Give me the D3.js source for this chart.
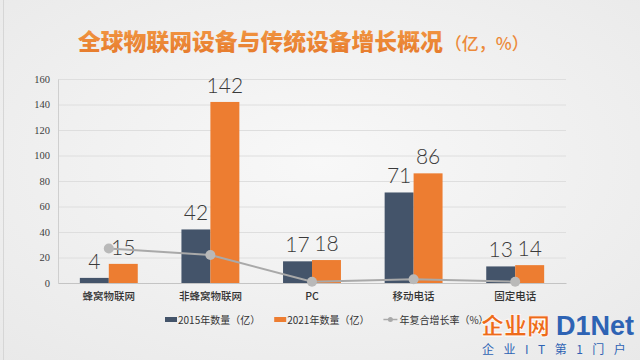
<!DOCTYPE html>
<html>
<head>
<meta charset="utf-8">
<script src="https://cdn.jsdelivr.net/npm/d3@7"></script>
<style>
  html, body { margin: 0; padding: 0; background: #efefef; }
  svg { display: block; }
</style>
</head>
<body>
<svg id="chart" width="640" height="360"></svg>
<script>
const categories = ['蜂窝物联网', '非蜂窝物联网', 'PC', '移动电话', '固定电话']
const count2015 = [4, 42, 17, 71, 13]
const count2021 = [15, 142, 18, 86, 14]
const growthRate = [27, 22, 1, 3, 1]
const yTicks = [0, 20, 40, 60, 80, 100, 120, 140, 160]
const seriesNames = ['2015年数量（亿）', '2021年数量（亿）', '年复合增长率（%）']

const blue = '#44546a'
const orange = '#ed7d31'
const grey = '#a9a9a9'

const svg = d3.select('#chart')

// background with a soft light centre
const defs = svg.append('defs')
const bg = defs.append('radialGradient').attr('id', 'bg')
  .attr('cx', '50%').attr('cy', '45%').attr('r', '75%')
bg.append('stop').attr('offset', '0%').attr('stop-color', '#f8f8f8')
bg.append('stop').attr('offset', '100%').attr('stop-color', '#e9e9e9')
svg.append('rect').attr('width', 640).attr('height', 360).attr('fill', 'url(#bg)')
svg.append('line').attr('x1', 3.5).attr('x2', 3.5).attr('y1', 0).attr('y2', 360)
  .attr('stroke', '#d6d6d6')

const titleGrad = defs.append('linearGradient').attr('id', 'tg')
  .attr('x1', 0).attr('x2', 0).attr('y1', 0).attr('y2', 1)
titleGrad.append('stop').attr('offset', '0%').attr('stop-color', '#f39a45')
titleGrad.append('stop').attr('offset', '100%').attr('stop-color', '#e5782a')

// title
const title = svg.append('text')
  .attr('x', 78).attr('y', 50)
  .attr('font-family', 'Noto Sans CJK SC')
  .attr('font-weight', 900)
  .attr('fill', 'url(#tg)')
title.append('tspan').attr('font-size', 22.8).text('全球物联网设备与传统设备增长概况')
title.append('tspan').attr('font-size', 17).attr('font-weight', 500).attr('fill', '#ec8a3a')
  .attr('dx', 2).text('（亿，%）')

// scales
const x = d3.scaleBand()
  .domain(categories)
  .range([58, 566])
  .paddingInner(0.43)
  .paddingOuter(0.215)

const x1 = d3.scaleBand()
  .domain(['2015', '2021'])
  .range([0, x.bandwidth()])

const y = d3.scaleLinear()
  .domain([0, 160])
  .range([283, 79])

// gridlines
svg.append('g')
  .selectAll('line')
  .data(yTicks.slice(1))
  .join('line')
  .attr('x1', 58).attr('x2', 566)
  .attr('y1', d => y(d) + 0.5).attr('y2', d => y(d) + 0.5)
  .attr('stroke', '#dedede')

// y axis
const yAxis = svg.append('g')
  .attr('transform', 'translate(58,0)')
  .call(d3.axisLeft(y).tickValues(yTicks).tickSize(0).tickPadding(8))
yAxis.select('.domain').attr('stroke', '#cfcfcf')
yAxis.selectAll('text')
  .attr('font-family', 'Liberation Serif')
  .attr('font-size', 10.5)
  .attr('fill', '#404040')

// bars
const rows = categories.map((c, i) => ({ cat: c, v2015: count2015[i], v2021: count2021[i] }))
const group = svg.append('g')
  .selectAll('g')
  .data(rows)
  .join('g')
  .attr('transform', d => `translate(${x(d.cat)},0)`)

group.selectAll('rect')
  .data(d => [{ k: '2015', v: d.v2015 }, { k: '2021', v: d.v2021 }])
  .join('rect')
  .attr('x', d => x1(d.k))
  .attr('width', x1.bandwidth())
  .attr('y', d => y(d.v))
  .attr('height', d => y(0) - y(d.v))
  .attr('fill', d => d.k === '2015' ? blue : orange)

// x axis baseline and labels
const xAxis = svg.append('g')
  .attr('transform', `translate(0,${y(0)})`)
  .call(d3.axisBottom(x).tickSize(0).tickPadding(10))
xAxis.select('.domain').attr('stroke', '#c4c4c4')
xAxis.selectAll('text')
  .attr('font-family', 'Noto Sans CJK SC')
  .attr('font-size', 10.5)
  .attr('font-weight', 500)
  .attr('fill', '#333')

// growth line
const line = d3.line()
  .x((d, i) => x(categories[i]) + x.bandwidth() / 2)
  .y(d => y(d))
svg.append('path')
  .datum(growthRate)
  .attr('d', line)
  .attr('fill', 'none')
  .attr('stroke', grey)
  .attr('stroke-width', 2)
svg.append('g')
  .selectAll('circle')
  .data(growthRate)
  .join('circle')
  .attr('cx', (d, i) => x(categories[i]) + x.bandwidth() / 2)
  .attr('cy', d => y(d))
  .attr('r', 5)
  .attr('fill', '#b9b9b9')

// value labels
group.selectAll('text.val')
  .data(d => [{ k: '2015', v: d.v2015 }, { k: '2021', v: d.v2021 }])
  .join('text')
  .attr('class', 'val')
  .attr('x', d => x1(d.k) + x1.bandwidth() / 2)
  .attr('y', d => y(d.v) - 9)
  .attr('text-anchor', 'middle')
  .attr('font-family', 'Lato')
  .attr('font-weight', 300)
  .attr('font-size', 21)
  .attr('fill', '#3a3a3a')
  .text(d => d.v)

// legend, laid out left to right from the measured text widths
const legend = svg.append('g')
  .attr('font-family', 'Noto Sans CJK SC')
  .attr('font-size', 10)
  .attr('fill', '#333')
let lx = 165
seriesNames.forEach((name, i) => {
  const item = legend.append('g').attr('transform', `translate(${lx},0)`)
  if (i < 2) {
    item.append('rect').attr('y', 317).attr('width', 12).attr('height', 5)
      .attr('fill', i === 0 ? blue : orange)
  } else {
    item.append('line').attr('x1', 0).attr('x2', 14).attr('y1', 319.5).attr('y2', 319.5)
      .attr('stroke', grey).attr('stroke-width', 1.5)
    item.append('circle').attr('cx', 7).attr('cy', 319.5).attr('r', 2.5).attr('fill', grey)
  }
  const t = item.append('text').attr('x', i < 2 ? 13 : 16).attr('y', 323.5).text(name)
  lx += (i < 2 ? 13 : 16) + t.node().getComputedTextLength() + 14
})

// watermark
const wm = svg.append('g')
wm.append('text').attr('x', 481).attr('y', 334)
  .attr('font-family', 'Noto Sans CJK SC').attr('font-weight', 900).attr('font-size', 23)
  .attr('fill', '#ee6a1a').attr('stroke', '#fff').attr('stroke-width', 0.8)
  .text('企业网')
wm.append('text').attr('x', 556).attr('y', 335)
  .attr('font-family', 'Liberation Sans').attr('font-weight', 700).attr('font-size', 27)
  .attr('fill', '#2e63b4')
  .text('D1Net')
wm.append('text').attr('x', 482).attr('y', 354)
  .attr('font-family', 'Noto Sans CJK SC').attr('font-size', 12)
  .attr('fill', '#2e63b4').attr('letter-spacing', 9.5)
  .text('企业IT第1门户')
</script>
</body>
</html>
